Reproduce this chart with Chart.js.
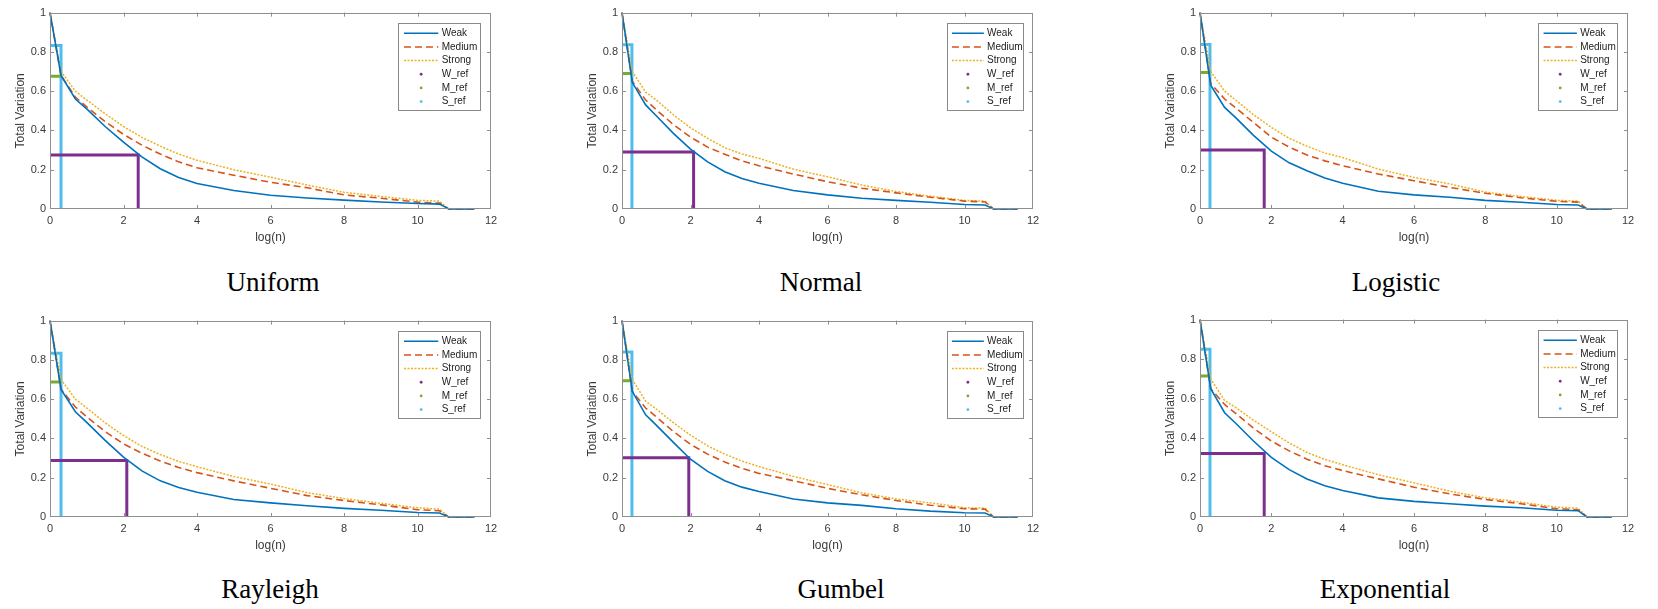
<!DOCTYPE html>
<html>
<head>
<meta charset="utf-8">
<script src="https://cdn.jsdelivr.net/npm/chart.js@4.4.1/dist/chart.umd.min.js"></script>
<style>
    body { margin: 0; background: #fff; width: 1658px; height: 609px; position: relative; overflow: hidden; }
    .panel { position: absolute; }
    .caption { position: absolute; font-family: "Liberation Serif", serif; font-size: 27px; line-height: 1; color: #000; transform: translateX(-50%); white-space: nowrap; }
</style>
</head>
<body>
<script>
const logN = [0, 0.3, 0.69, 1, 1.5, 2, 2.5, 3, 3.5, 4, 5, 6, 7, 8, 9, 10, 10.6, 10.85, 11.55];

const distNames = ["Uniform", "Normal", "Logistic", "Rayleigh", "Gumbel", "Exponential"];

const uniformWeak   = [1, 0.68, 0.56, 0.51, 0.42, 0.34, 0.265, 0.205, 0.16, 0.13, 0.094, 0.07, 0.056, 0.045, 0.036, 0.028, 0.025, 0, 0];
const uniformMedium = [1, 0.68, 0.57, 0.52, 0.445, 0.38, 0.325, 0.28, 0.24, 0.21, 0.172, 0.136, 0.108, 0.072, 0.055, 0.035, 0.03, 0, 0];
const uniformStrong = [1, 0.7, 0.6, 0.555, 0.485, 0.42, 0.365, 0.32, 0.28, 0.248, 0.2, 0.162, 0.122, 0.085, 0.064, 0.044, 0.04, 0, 0];

const normalWeak   = [1, 0.645, 0.53, 0.475, 0.385, 0.305, 0.24, 0.19, 0.155, 0.131, 0.094, 0.072, 0.055, 0.044, 0.034, 0.023, 0.02, 0, 0];
const normalMedium = [1, 0.65, 0.555, 0.505, 0.43, 0.366, 0.315, 0.279, 0.245, 0.22, 0.178, 0.139, 0.106, 0.082, 0.06, 0.04, 0.036, 0, 0];
const normalStrong = [1, 0.7, 0.595, 0.555, 0.48, 0.413, 0.36, 0.312, 0.28, 0.258, 0.203, 0.164, 0.122, 0.089, 0.065, 0.044, 0.04, 0, 0];

const logisticWeak   = [1, 0.63, 0.517, 0.465, 0.375, 0.295, 0.235, 0.195, 0.158, 0.131, 0.09, 0.072, 0.06, 0.044, 0.034, 0.023, 0.02, 0, 0];
const logisticMedium = [1, 0.64, 0.56, 0.515, 0.44, 0.366, 0.315, 0.275, 0.245, 0.22, 0.178, 0.144, 0.11, 0.08, 0.057, 0.039, 0.035, 0, 0];
const logisticStrong = [1, 0.7, 0.6, 0.555, 0.48, 0.416, 0.36, 0.32, 0.285, 0.262, 0.203, 0.161, 0.128, 0.086, 0.064, 0.044, 0.04, 0, 0];

const rayleighWeak   = [1, 0.65, 0.536, 0.482, 0.39, 0.305, 0.235, 0.184, 0.15, 0.126, 0.089, 0.072, 0.057, 0.044, 0.034, 0.023, 0.02, 0, 0];
const rayleighMedium = [1, 0.65, 0.56, 0.51, 0.435, 0.372, 0.325, 0.285, 0.252, 0.226, 0.184, 0.146, 0.109, 0.084, 0.062, 0.037, 0.032, 0, 0];
const rayleighStrong = [1, 0.7, 0.6, 0.555, 0.48, 0.415, 0.36, 0.318, 0.283, 0.256, 0.206, 0.168, 0.124, 0.094, 0.07, 0.047, 0.04, 0, 0];

const gumbelWeak   = [1, 0.64, 0.52, 0.468, 0.38, 0.294, 0.232, 0.185, 0.152, 0.13, 0.092, 0.072, 0.059, 0.042, 0.03, 0.022, 0.02, 0, 0];
const gumbelMedium = [1, 0.64, 0.555, 0.51, 0.435, 0.37, 0.32, 0.28, 0.248, 0.222, 0.185, 0.146, 0.113, 0.084, 0.06, 0.042, 0.04, 0, 0];
const gumbelStrong = [1, 0.7, 0.59, 0.55, 0.48, 0.417, 0.362, 0.32, 0.285, 0.257, 0.207, 0.165, 0.123, 0.092, 0.072, 0.047, 0.045, 0, 0];

const exponentialWeak   = [1, 0.65, 0.528, 0.475, 0.385, 0.302, 0.24, 0.193, 0.158, 0.134, 0.097, 0.079, 0.067, 0.055, 0.047, 0.034, 0.032, 0, 0];
const exponentialMedium = [1, 0.65, 0.57, 0.525, 0.45, 0.385, 0.335, 0.293, 0.26, 0.235, 0.193, 0.151, 0.117, 0.089, 0.067, 0.042, 0.037, 0, 0];
const exponentialStrong = [1, 0.7, 0.59, 0.555, 0.49, 0.432, 0.375, 0.327, 0.292, 0.265, 0.214, 0.173, 0.131, 0.097, 0.075, 0.05, 0.045, 0, 0];

// reference lines per distribution (same order as distNames)
const refWeakX   = [2.4, 2.09, 1.8, 2.09, 1.95, 1.8];
const refWeakY   = [0.275, 0.29, 0.30, 0.288, 0.302, 0.322];
const refMediumY = [0.676, 0.69, 0.695, 0.688, 0.694, 0.714];
const refStrongX = [0.3, 0.29, 0.28, 0.3, 0.29, 0.28];
const refStrongY = [0.832, 0.836, 0.837, 0.834, 0.84, 0.85];

const xTicks = [0, 2, 4, 6, 8, 10, 12];
const yTicks = [0, 0.2, 0.4, 0.6, 0.8, 1];

const curves = [
    [uniformWeak, uniformMedium, uniformStrong],
    [normalWeak, normalMedium, normalStrong],
    [logisticWeak, logisticMedium, logisticStrong],
    [rayleighWeak, rayleighMedium, rayleighStrong],
    [gumbelWeak, gumbelMedium, gumbelStrong],
    [exponentialWeak, exponentialMedium, exponentialStrong],
];

// plot areas on the page
const panels = [
    { L: 50, T: 10, R: 491, B: 209 },
    { L: 622, T: 10, R: 1033, B: 209 },
    { L: 1200, T: 10, R: 1628, B: 209 },
    { L: 50, T: 318, R: 491, B: 517 },
    { L: 622, T: 318, R: 1033, B: 517 },
    { L: 1200, T: 317, R: 1628, B: 517 },
];
const captionPos = [[273, 292], [821, 292], [1396, 292], [270, 599], [841, 599], [1385, 599]];

const AXIS_COLOR = "#8f8f8f";
const TEXT_COLOR = "#3a3a3a";
const SANS = "'Liberation Sans', Arial, sans-serif";

const matlabAxes = {
    id: "matlabAxes",
    afterDatasetsDraw(chart) {
        const { ctx, chartArea: a, scales } = chart;
        ctx.save();
        ctx.strokeStyle = AXIS_COLOR;
        ctx.lineWidth = 1;
        ctx.strokeRect(Math.round(a.left) + 0.5, Math.round(a.top) + 0.5, Math.round(a.width) - 1, Math.round(a.height) - 1);
        ctx.beginPath();
        xTicks.slice(1, -1).forEach(v => {
            const px = Math.round(scales.x.getPixelForValue(v)) + 0.5;
            ctx.moveTo(px, a.bottom); ctx.lineTo(px, a.bottom - 4);
            ctx.moveTo(px, a.top); ctx.lineTo(px, a.top + 4);
        });
        yTicks.slice(1, -1).forEach(v => {
            const py = Math.round(scales.y.getPixelForValue(v)) + 0.5;
            ctx.moveTo(a.left, py); ctx.lineTo(a.left + 4, py);
            ctx.moveTo(a.right, py); ctx.lineTo(a.right - 4, py);
        });
        ctx.stroke();
        ctx.restore();
    }
};

const matlabLegend = {
    id: "matlabLegend",
    afterDraw(chart) {
        const { ctx, chartArea: a } = chart;
        const k = a.width / 441;
        const w = 81.7 * k, h = 86.6;
        const left = a.right - 11 * k - w, top = a.top + 10.7;
        ctx.save();
        ctx.fillStyle = "#fff";
        ctx.fillRect(left, top, w, h);
        ctx.strokeStyle = "#8a8a8a";
        ctx.lineWidth = 1;
        ctx.strokeRect(Math.round(left) + 0.5, Math.round(top) + 0.5, Math.round(w), Math.round(h));
        ctx.font = "10px " + SANS;
        ctx.textBaseline = "middle";
        chart.data.datasets.forEach((ds, i) => {
            const y = top + 10 + i * 13.65;
            const x0 = left + 5.7 * k, x1 = left + 40 * k;
            if (ds.legendDot) {
                ctx.fillStyle = ds.borderColor;
                ctx.beginPath();
                ctx.arc((x0 + x1) / 2, y, 1.4, 0, Math.PI * 2);
                ctx.fill();
            } else {
                ctx.strokeStyle = ds.borderColor;
                ctx.lineWidth = ds.borderWidth;
                ctx.setLineDash(ds.borderDash || []);
                ctx.beginPath();
                ctx.moveTo(x0, y); ctx.lineTo(x1, y);
                ctx.stroke();
                ctx.setLineDash([]);
            }
            ctx.fillStyle = "#222";
            ctx.fillText(ds.label, left + 43.4 * k, y);
        });
        ctx.restore();
    }
};

function toPoints(ys) {
    return logN.map((x, i) => ({ x, y: ys[i] }));
}

function buildDatasets(i) {
    const [weak, medium, strong] = curves[i];
    const curve = { fill: false, pointRadius: 0, tension: 0, clip: 3 };
    const ref = { fill: false, pointRadius: 0, borderWidth: 3, tension: 0, clip: 3, legendDot: true };
    return [
        { ...curve, label: "Weak", data: toPoints(weak), borderColor: "#0072BD", borderWidth: 1.6 },
        { ...curve, label: "Medium", data: toPoints(medium), borderColor: "#D95319", borderWidth: 1.6, borderDash: [7, 4] },
        { ...curve, label: "Strong", data: toPoints(strong), borderColor: "#EDB120", borderWidth: 1.5, borderDash: [2, 1.5] },
        { ...ref, label: "W_ref", borderColor: "#7E2F8E",
          data: [{ x: 0, y: refWeakY[i] }, { x: refWeakX[i], y: refWeakY[i] }, { x: refWeakX[i], y: 0 }] },
        { ...ref, label: "M_ref", borderColor: "#77AC30",
          data: [{ x: 0, y: refMediumY[i] }, { x: refStrongX[i], y: refMediumY[i] }] },
        { ...ref, label: "S_ref", borderColor: "#4DBEEE",
          data: [{ x: 0, y: refStrongY[i] }, { x: refStrongX[i], y: refStrongY[i] }, { x: refStrongX[i], y: 0 }] },
    ];
}

function createPanel(i) {
    const p = panels[i];
    const w = p.R - p.L + 41 + 14;
    const h = p.B - p.T + 8 + 40;
    const div = document.createElement("div");
    div.className = "panel";
    div.style.left = (p.L - 41) + "px";
    div.style.top = (p.T - 8) + "px";
    const canvas = document.createElement("canvas");
    canvas.width = w;
    canvas.height = h;
    div.appendChild(canvas);
    document.body.appendChild(div);

    const caption = document.createElement("div");
    caption.className = "caption";
    caption.textContent = distNames[i];
    caption.style.left = captionPos[i][0] + "px";
    caption.style.top = (captionPos[i][1] - 22.6) + "px";
    document.body.appendChild(caption);

    new Chart(canvas, {
        type: "line",
        data: { datasets: buildDatasets(i) },
        options: {
            responsive: false,
            animation: false,
            layout: { padding: { top: 8, right: 14, left: 0, bottom: 0 } },
            plugins: { legend: { display: false }, tooltip: { enabled: false } },
            scales: {
                x: {
                    type: "linear", min: 0, max: 12,
                    afterBuildTicks: s => { s.ticks = xTicks.map(v => ({ value: v })); },
                    ticks: { color: TEXT_COLOR, font: { size: 11, family: SANS }, padding: 5, maxRotation: 0, callback: v => String(v) },
                    grid: { display: false, drawTicks: false },
                    border: { display: false },
                    title: { display: true, text: "log(n)", color: TEXT_COLOR, font: { size: 12, family: SANS } },
                    afterFit: s => { s.height = 40; }
                },
                y: {
                    type: "linear", min: 0, max: 1,
                    afterBuildTicks: s => { s.ticks = yTicks.map(v => ({ value: v })); },
                    ticks: { color: TEXT_COLOR, font: { size: 11, family: SANS }, padding: 4, callback: v => String(v) },
                    grid: { display: false, drawTicks: false },
                    border: { display: false },
                    title: { display: true, text: "Total Variation", color: TEXT_COLOR, font: { size: 12, family: SANS } },
                    afterFit: s => { s.width = 41; }
                }
            }
        },
        plugins: [matlabAxes, matlabLegend]
    });
}

distNames.forEach((name, i) => createPanel(i));
</script>
</body>
</html>
